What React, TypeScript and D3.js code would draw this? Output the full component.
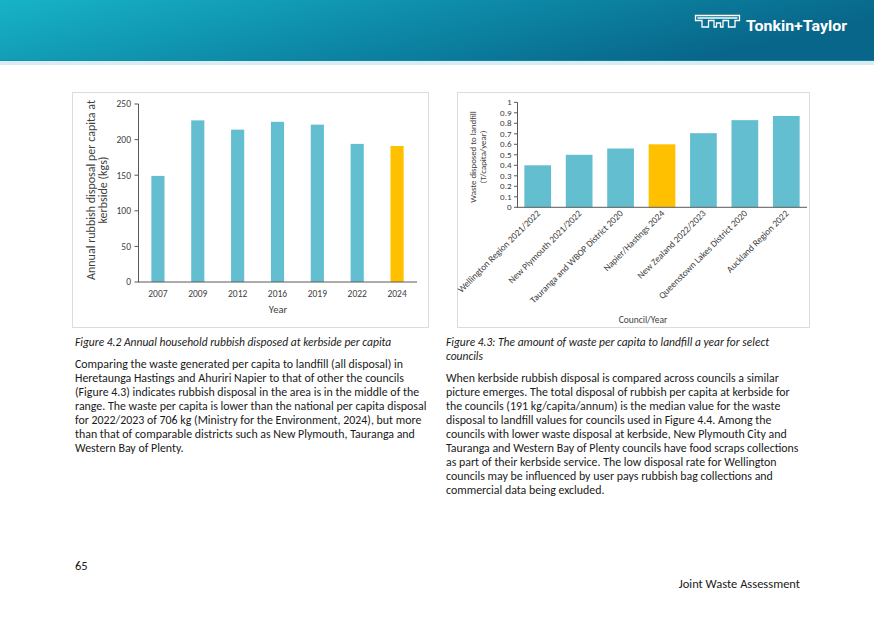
import React from 'react';
import * as d3 from 'd3';

const years = ['2007', '2009', '2012', '2016', '2019', '2022', '2024'];
const kerbsideKg = [149, 227, 214, 225, 221, 194, 191];
const kerbsideTicks = [0, 50, 100, 150, 200, 250];

const councils = [
  'Wellington Region 2021/2022',
  'New Plymouth 2021/2022',
  'Tauranga and WBOP District 2020',
  'Napier/Hastings 2024',
  'New Zealand 2022/2023',
  'Queenstown Lakes District 2020',
  'Auckland Region 2022',
];
const landfillT = [0.40, 0.50, 0.56, 0.60, 0.706, 0.83, 0.87];
const landfillTicks = [0, 0.1, 0.2, 0.3, 0.4, 0.5, 0.6, 0.7, 0.8, 0.9, 1];

const highlightYear = '2024';
const highlightCouncil = 'Napier/Hastings 2024';

const leftCaption = 'Figure 4.2 Annual household rubbish disposed at kerbside per capita';
const leftBody = [
  'Comparing the waste generated per capita to landfill (all disposal) in',
  'Heretaunga Hastings and Ahuriri Napier to that of other the councils',
  '(Figure 4.3) indicates rubbish disposal in the area is in the middle of the',
  'range. The waste per capita is lower than the national per capita disposal',
  'for 2022/2023 of 706 kg (Ministry for the Environment, 2024), but more',
  'than that of comparable districts such as New Plymouth, Tauranga and',
  'Western Bay of Plenty.',
];
const rightCaption = [
  'Figure 4.3: The amount of waste per capita to landfill a year for select',
  'councils',
];
const rightBody = [
  'When kerbside rubbish disposal is compared across councils a similar',
  'picture emerges. The total disposal of rubbish per capita at kerbside for',
  'the councils (191 kg/capita/annum) is the median value for the waste',
  'disposal to landfill values for councils used in Figure 4.4. Among the',
  'councils with lower waste disposal at kerbside, New Plymouth City and',
  'Tauranga and Western Bay of Plenty councils have food scraps collections',
  'as part of their kerbside service. The low disposal rate for Wellington',
  'councils may be influenced by user pays rubbish bag collections and',
  'commercial data being excluded.',
];

const TEAL = '#63BFCF';
const GOLD = '#FFC000';
const AXIS = '#595959';
const LABEL = '#404040';
const TEXT = '#1a1a1a';
const FONT = "Carlito, Calibri, Lato, 'Liberation Sans', sans-serif";

export default function App() {
  const x1 = d3.scaleBand<string>().domain(years).range([138, 417]).paddingInner(0.67).paddingOuter(0.335);
  const y1 = d3.scaleLinear().domain([0, 250]).range([282, 104]);
  const x2 = d3.scaleBand<string>().domain(councils).range([517, 807]).paddingInner(0.355).paddingOuter(0.1775);
  const y2 = d3.scaleLinear().domain([0, 1]).range([207.3, 102.3]);

  return (
    <svg width={874} height={618} style={{ position: 'absolute', left: 0, top: 0 }} fontFamily={FONT}>
      <defs>
        <linearGradient id="hdr" x1="0" y1="0" x2="1" y2="0.3">
          <stop offset="0" stopColor="#17B3C6" />
          <stop offset="0.55" stopColor="#0D88A6" />
          <stop offset="1" stopColor="#08668A" />
        </linearGradient>
      </defs>
      <rect x={0} y={0} width={874} height={618} fill="#fff" />
      <rect x={0} y={0} width={874} height={61} fill="url(#hdr)" />
      <rect x={0} y={60} width={874} height={1.2} fill="#0E8FA8" opacity={0.7} />
      <rect x={0} y={61} width={874} height={4} fill="#D8ECF2" />
      <g fill="none" stroke="#fff" strokeWidth={1.3} strokeLinejoin="miter">
        <path d="M695.5,15.5 H739.5 V20.5 H735 V27 H728.5 V20.5 H723 V27 H720.5 V23 H716.5 V27 H714 V20.5 H708.5 V27 H702 V20.5 H695.5 Z" />
        <path d="M697.5,18 H737.5" />
      </g>
      <text x={746} y={31} fill="#fff" fontFamily="'Liberation Sans Narrow', Roboto, sans-serif" fontWeight="bold" fontSize={14} textLength={101} lengthAdjust="spacingAndGlyphs">
        Tonkin+Taylor
      </text>

      {/* Left chart */}
      <rect x={72.5} y={92.5} width={356} height={235} fill="#fff" stroke="#DCDCDC" />
      {years.map((yr, i) => (
        <rect key={yr} x={x1(yr)} y={y1(kerbsideKg[i])} width={x1.bandwidth()} height={y1(0) - y1(kerbsideKg[i])} fill={yr === highlightYear ? GOLD : TEAL} />
      ))}
      <line x1={138.5} x2={138.5} y1={y1(250)} y2={y1(0)} stroke={AXIS} />
      <line x1={138} x2={417} y1={y1(0)} y2={y1(0)} stroke={AXIS} />
      {kerbsideTicks.map((t) => (
        <g key={t}>
          <line x1={134.5} x2={138.5} y1={y1(t)} y2={y1(t)} stroke={AXIS} />
          <text x={131} y={y1(t)} dy="0.35em" textAnchor="end" fontSize={9.5} fill={LABEL}>{t}</text>
        </g>
      ))}
      {years.map((yr) => (
        <text key={yr} x={(x1(yr) as number) + x1.bandwidth() / 2} y={297} textAnchor="middle" fontSize={9.5} fill={LABEL}>{yr}</text>
      ))}
      <text x={278} y={313} textAnchor="middle" fontSize={10.5} fill={LABEL}>Year</text>
      <g transform="translate(91,190) rotate(-90)">
        <text x={0} y={0} dy="0.35em" textAnchor="middle" fontSize={12} fill={LABEL}>Annual rubbish disposal per capita at</text>
        <text x={0} y={11.5} dy="0.35em" textAnchor="middle" fontSize={12} fill={LABEL}>kerbside (kgs)</text>
      </g>

      {/* Right chart */}
      <rect x={457.5} y={92.5} width={352} height={235} fill="#fff" stroke="#DCDCDC" />
      {councils.map((c, i) => (
        <rect key={c} x={x2(c)} y={y2(landfillT[i])} width={x2.bandwidth()} height={y2(0) - y2(landfillT[i])} fill={c === highlightCouncil ? GOLD : TEAL} />
      ))}
      <line x1={517.5} x2={517.5} y1={y2(1)} y2={y2(0)} stroke={AXIS} />
      <line x1={517} x2={807} y1={y2(0)} y2={y2(0)} stroke={AXIS} />
      {landfillTicks.map((t) => (
        <g key={t}>
          <line x1={514} x2={517.5} y1={y2(t)} y2={y2(t)} stroke={AXIS} />
          <text x={511.5} y={y2(t)} dy="0.35em" textAnchor="end" fontSize={9} fill={LABEL}>{d3.format('~g')(t)}</text>
        </g>
      ))}
      {councils.map((c) => (
        <text key={c} transform={`translate(${(x2(c) as number) + x2.bandwidth() / 2 + 3},${214}) rotate(-45)`} textAnchor="end" fontSize={9.3} fill={LABEL}>{c}</text>
      ))}
      <text x={643} y={323} textAnchor="middle" fontSize={9.5} fill={LABEL}>Council/Year</text>
      <g transform="translate(472.5,157) rotate(-90)">
        <text x={0} y={0} dy="0.35em" textAnchor="middle" fontSize={8.8} fill={LABEL}>Waste disposed to landfill</text>
        <text x={0} y={10.5} dy="0.35em" textAnchor="middle" fontSize={8.8} fill={LABEL}>(T/capita/year)</text>
      </g>

      {/* Captions and body */}
      <text x={75} y={346} fontSize={11.5} fontStyle="italic" fill={TEXT}>{leftCaption}</text>
      {leftBody.map((l, i) => (
        <text key={i} x={75} y={367.5 + i * 14} fontSize={11.9} fill={TEXT}>{l}</text>
      ))}
      {rightCaption.map((l, i) => (
        <text key={i} x={446} y={346 + i * 14} fontSize={11.5} fontStyle="italic" fill={TEXT}>{l}</text>
      ))}
      {rightBody.map((l, i) => (
        <text key={i} x={446} y={381.5 + i * 14} fontSize={11.9} fill={TEXT}>{l}</text>
      ))}

      <text x={75} y={570} fontSize={12.5} fill={TEXT}>65</text>
      <text x={800} y={588} textAnchor="end" fontSize={12.5} fill={TEXT}>Joint Waste Assessment</text>
    </svg>
  );
}
